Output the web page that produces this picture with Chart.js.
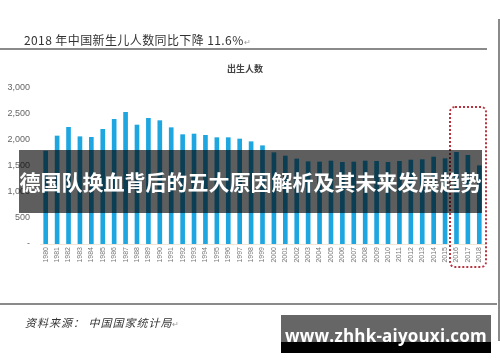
<!DOCTYPE html>
<html>
<head>
<meta charset="utf-8">
<script src="https://cdn.jsdelivr.net/npm/chart.js@4"></script>
<style>
  body { margin: 0; background: #fff; }
  #wrap { position: relative; width: 500px; height: 362px; overflow: hidden; background: #fff; }
  #chart { position: absolute; left: 0; top: 0; }
  .txt { position: absolute; white-space: nowrap; }
  #title { left: 24px; top: 31px; font: 12px "Noto Sans CJK SC", sans-serif; color: #333; letter-spacing: 0.4px; }
  #subtitle { left: 227px; top: 62px; font: bold 9px "Noto Sans CJK SC", serif; color: #444; }
  #source { left: 25px; top: 314px; font: italic 11px "Noto Sans CJK SC", serif; color: #333; letter-spacing: 1px; }
  .mark { color: #999; font-size: 8px; font-style: normal; }
  .line { position: absolute; background: #8a8a8a; }
  #box { position: absolute; left: 449px; top: 106px; width: 34px; height: 158px;
         border: 2px dotted #b8333f; border-radius: 6px; }
  #banner { position: absolute; left: 19px; top: 150px; width: 463px; height: 63px;
            background: rgba(0,0,0,0.63); color: #fff; font: bold 21px "Noto Sans CJK SC", sans-serif;
            line-height: 63px; text-align: center; }
  #wm { position: absolute; left: 281px; top: 315px; width: 210px; height: 38px;
        background: linear-gradient(#666 0, #666 27px, #000 27px); }
  #wm span { position: absolute; left: 0; width: 210px; top: 9px; text-align: center;
             font: bold 17px "Open Sans", sans-serif; color: #fff; letter-spacing: 0.2px; }
</style>
</head>
<body>
<div id="wrap">
  <canvas id="chart" width="500" height="362"></canvas>
  <div class="txt" id="title">2018 年中国新生儿人数同比下降 11.6%<span class="mark">↵</span></div>
  <div class="line" style="left:0;top:48px;width:487px;height:1.5px"></div>
  <div class="line" style="left:498px;top:19px;width:1.5px;height:322px"></div>
  <div class="line" style="left:0;top:303px;width:497px;height:1.5px"></div>
  <div class="txt" id="subtitle">出生人数</div>
  <div id="box"></div>
  <div class="txt" id="source">资料来源： 中国国家统计局<span class="mark">↵</span></div>
  <div id="banner">德国队换血背后的五大原因解析及其未来发展趋势</div>
  <div id="wm"><span>www.zhhk-aiyouxi.com</span></div>
</div>
<script>
const years = ["1980","1981","1982","1983","1984","1985","1986","1987","1988","1989",
  "1990","1991","1992","1993","1994","1995","1996","1997","1998","1999",
  "2000","2001","2002","2003","2004","2005","2006","2007","2008","2009",
  "2010","2011","2012","2013","2014","2015","2016","2017","2018"];
// 出生人数（万人）
const births = [1788, 2077, 2244, 2063, 2051, 2205, 2397, 2532, 2288, 2417,
  2372, 2237, 2103, 2115, 2090, 2045, 2045, 2019, 1967, 1890,
  1756, 1692, 1635, 1583, 1577, 1596, 1571, 1577, 1596, 1590,
  1571, 1590, 1615, 1622, 1673, 1641, 1763, 1705, 1506];
const yTicks = [0, 500, 1000, 1500, 2000, 2500, 3000];

const ctx = document.getElementById("chart");
new Chart(ctx, {
  type: "bar",
  data: {
    labels: years,
    datasets: [{
      label: "出生人数",
      data: births,
      backgroundColor: "#1ea6e0",
      barThickness: 4
    }]
  },
  options: {
    responsive: false,
    animation: false,
    layout: { padding: { top: 88, left: 0, right: 15, bottom: 0 } },
    plugins: { legend: { display: false }, tooltip: { enabled: false } },
    scales: {
      x: {
        grid: { display: false, drawTicks: false },
        border: { display: true, color: "#f0e6d8" },
        ticks: {
          autoSkip: false, minRotation: 90, maxRotation: 90, padding: 3,
          color: "#777", font: { family: "Liberation Sans", size: 7 }
        },
        afterFit: s => { s.height = 118; }
      },
      y: {
        min: 0, max: 3000,
        grid: { display: false, drawTicks: false },
        border: { display: false },
        afterBuildTicks: s => { s.ticks = yTicks.map(v => ({ value: v })); },
        ticks: {
          padding: 10, color: "#666",
          font: { family: "Liberation Sans", size: 9 },
          callback: v => v === 0 ? "-" : v.toLocaleString("en-US")
        },
        afterFit: s => { s.width = 40; }
      }
    }
  }
});
</script>
</body>
</html>
